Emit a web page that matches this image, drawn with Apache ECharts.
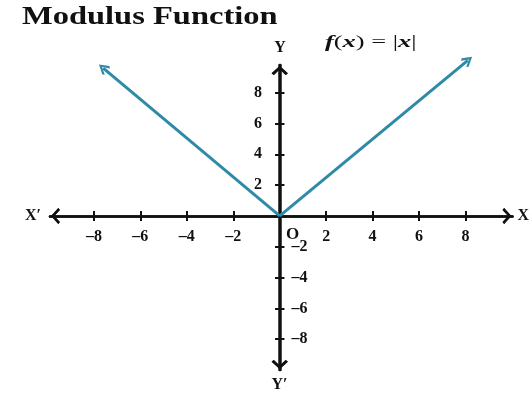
<!DOCTYPE html>
<html>
<head>
<meta charset="utf-8">
<script src="https://cdn.jsdelivr.net/npm/echarts@6/dist/echarts.min.js"></script>
<style>
  html, body { margin: 0; padding: 0; background: #fff; }
  #chart { width: 532px; height: 399px; }
</style>
</head>
<body>
<div id="chart"></div>
<script>
// tick positions on each axis
const xTicks = [-8, -6, -4, -2, 2, 4, 6, 8];
const yTicksUp = [2, 4, 6, 8];
const yTicksDown = [-2, -4, -6, -8];
const yTicksAll = [-8, -6, -4, -2, 2, 4, 6, 8];
// f(x) = |x| : the two rays as drawn, from O to the arrow heads
const origin = [0, 0];
const leftEnd = [-7.6, 9.6];
const rightEnd = [8.1, 10.1];

const font = '"Liberation Serif", "DejaVu Serif", serif';
const ink = '#111';
const teal = '#2e8aa6';
// open chevron, pointing up
const chevron = 'path://M0,9 L10,0 L20,9 L17.5,11 L10,4 L2.5,11 Z';

const dash = v => String(v).replace('-', '\u2013');

const chart = echarts.init(document.getElementById('chart'));

const labelStyle = { fontFamily: font, fontWeight: 'bold', fontSize: 16, color: ink };
const nameStyle = { fontFamily: font, fontWeight: 'bold', fontSize: 16, color: ink };

// grid: x from -9.89 to 10.02 over 463px, y from -10 to 9.8 over 305px
// so the zero lines sit at x=280, y=216; axes are shifted there with offset
const axisLine = {
  onZero: false,
  lineStyle: { color: ink, width: 2.5 },
  symbol: [chevron, chevron],
  symbolSize: [16, 11],
  symbolOffset: [5.5, -5.5]
};
const tick = ticks => ({ customValues: ticks, length: 5, lineStyle: { color: ink, width: 2 } });

const option = {
  animation: false,
  backgroundColor: '#fff',
  grid: { left: 50, right: 19, top: 65, bottom: 29 },
  xAxis: [
    {
      type: 'value', position: 'bottom', offset: -154, min: -9.89, max: 10.02,
      axisLine: axisLine,
      axisTick: tick(xTicks),
      axisLabel: { customValues: xTicks, margin: 13, formatter: dash, ...labelStyle },
      splitLine: { show: false },
      name: 'X', nameLocation: 'end', nameGap: 5, nameTextStyle: nameStyle
    },
    {
      type: 'value', position: 'top', offset: -151, min: -9.89, max: 10.02,
      axisLine: axisLine,
      axisTick: tick(xTicks),
      axisLabel: { show: false },
      splitLine: { show: false },
      name: 'X\u2032', nameLocation: 'start', nameGap: 9, nameTextStyle: nameStyle
    }
  ],
  yAxis: [
    {
      type: 'value', position: 'left', offset: -230, min: -10, max: 9.8,
      axisLine: axisLine,
      axisTick: tick(yTicksAll),
      axisLabel: { customValues: yTicksUp, margin: 18, ...labelStyle },
      splitLine: { show: false },
      name: 'Y', nameLocation: 'end', nameGap: 9, nameTextStyle: nameStyle
    },
    {
      type: 'value', position: 'right', offset: -233, min: -10, max: 9.8,
      axisLine: axisLine,
      axisTick: tick(yTicksAll),
      axisLabel: { customValues: yTicksDown, margin: 12, formatter: dash, ...labelStyle },
      splitLine: { show: false },
      name: 'Y\u2032', nameLocation: 'start', nameGap: 7, nameTextStyle: nameStyle
    }
  ],
  graphic: [
    {
      type: 'text', x: 22, y: 4, scaleX: 1.25,
      style: { text: 'Modulus Function', font: 'bold 26px ' + font, fill: ink }
    },
    {
      type: 'text', x: 325, y: 35, scaleX: 1.65,
      style: {
        text: '{i|f}(' + '{i|x}) = |{i|x}|',
        font: '16px ' + font, fill: ink,
        rich: { i: { fontStyle: 'italic', fontFamily: font, fontSize: 16, fontWeight: 'bold' } }
      }
    },
    {
      type: 'text', x: 286, y: 226,
      style: { text: 'O', font: 'bold 17px ' + font, fill: ink }
    }
  ],
  series: [
    {
      type: 'lines',
      coordinateSystem: 'cartesian2d',
      xAxisIndex: 0,
      yAxisIndex: 0,
      clip: false,
      symbol: ['none', chevron],
      symbolSize: [16, 11],
      lineStyle: { color: teal, width: 3, opacity: 1 },
      data: [
        { coords: [origin, leftEnd] },
        { coords: [origin, rightEnd] }
      ],
      z: 5
    }
  ]
};

chart.setOption(option);
</script>
</body>
</html>
